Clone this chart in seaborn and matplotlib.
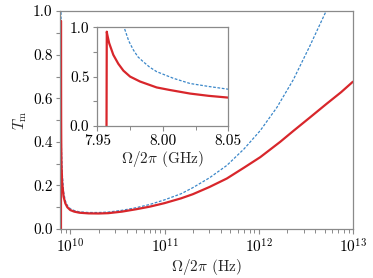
import numpy as np
import pandas as pd
import matplotlib
matplotlib.use("Agg")
import matplotlib.pyplot as plt
import seaborn as sns

# ---- data ----
red_freq_hz = [7.9570e9, 7.9572e9, 7.9575e9, 7.9590e9, 7.9622e9, 7.9660e9, 7.9699e9, 7.9750e9,
               7.9826e9, 7.9900e9, 7.9953e9, 8.0050e9, 8.0208e9, 8.0350e9, 8.05e9,
               8.2e9, 8.49e9, 8.85e9, 9.3e9, 1.0e10, 1.1e10, 1.25e10, 1.56e10, 2.0e10, 2.53e10,
               3.53e10, 5.0e10, 7.0e10, 1.0e11, 1.5e11, 2.0e11, 3.0e11, 4.59e11, 7.0e11,
               1.04e12, 1.69e12, 2.33e12, 3.5e12, 5.27e12, 7.5e12, 1.0e13]
red_T = [0.0, 0.955, 0.93, 0.84, 0.72, 0.63, 0.56, 0.50,
         0.45, 0.415, 0.39, 0.365, 0.328, 0.305, 0.287,
         0.21, 0.148, 0.118, 0.100, 0.087, 0.080, 0.075, 0.072, 0.0715, 0.073,
         0.080, 0.091, 0.103, 0.119, 0.141, 0.160, 0.193, 0.232, 0.282,
         0.330, 0.400, 0.450, 0.512, 0.575, 0.628, 0.676]

blue_freq_hz = [7.9660e9, 7.9704e9, 7.9740e9, 7.9775e9, 7.9810e9, 7.9851e9, 7.9900e9, 7.9953e9,
                8.0080e9, 8.0208e9, 8.0350e9, 8.05e9,
                8.2e9, 8.49e9, 8.85e9, 9.3e9, 1.0e10, 1.1e10, 1.25e10, 1.56e10, 2.0e10, 2.53e10,
                3.53e10, 5.0e10, 7.0e10, 1.0e11, 1.5e11, 2.0e11, 3.0e11, 4.59e11, 7.0e11,
                1.04e12, 1.56e12, 2.33e12, 3.51e12, 5.2e12, 7.0e12]
blue_T = [1.30, 1.0, 0.86, 0.77, 0.70, 0.65, 0.595, 0.55,
          0.483, 0.43, 0.40, 0.372,
          0.26, 0.17, 0.13, 0.108, 0.093, 0.085, 0.079, 0.076, 0.076, 0.078,
          0.086, 0.098, 0.113, 0.134, 0.162, 0.190, 0.235, 0.292, 0.368,
          0.452, 0.558, 0.685, 0.842, 1.0, 1.18]

main_yticks = [0.0, 0.2, 0.4, 0.6, 0.8, 1.0]
inset_xticks = [7.95, 8.00, 8.05]
inset_yticks = [0.0, 0.5, 1.0]

RED = "#d8262b"
BLUE = "#3b87c9"
GRAY = "#8a8a8a"

sns.set_theme(style="ticks")
plt.rcParams.update({
    "font.family": "serif",
    "font.serif": ["cmr10"],
    "mathtext.fontset": "cm",
    "axes.unicode_minus": False,
    "axes.formatter.use_mathtext": True,
    "font.size": 11,
    "axes.edgecolor": GRAY,
    "axes.linewidth": 0.9,
    "xtick.color": GRAY,
    "ytick.color": GRAY,
    "xtick.labelcolor": "black",
    "ytick.labelcolor": "black",
    "xtick.labelsize": 11,
    "ytick.labelsize": 11,
    "xtick.major.size": 3.5,
    "xtick.minor.size": 3.0,
    "ytick.major.size": 3.2,
    "ytick.minor.size": 3.2,
    "xtick.major.width": 0.8,
    "xtick.minor.width": 0.7,
    "ytick.major.width": 0.8,
    "ytick.minor.width": 0.8,
    "xtick.major.pad": 2.5,
    "ytick.major.pad": 2.5,
})

red_df = pd.DataFrame({"f": red_freq_hz, "T": red_T})
blue_df = pd.DataFrame({"f": blue_freq_hz, "T": blue_T})

fig = plt.figure(figsize=(3.73, 2.78), dpi=100)
ax = fig.add_axes([0.162, 0.176, 0.784, 0.784])

sns.lineplot(data=blue_df, x="f", y="T", ax=ax, color=BLUE, lw=0.9,
             linestyle=(0, (2.2, 1.3)), sort=False, estimator=None)
sns.lineplot(data=red_df, x="f", y="T", ax=ax, color=RED, lw=1.6,
             sort=False, estimator=None)
ax.set_xscale("log")
ax.set_xlim(7.85e9, 1e13)
ax.set_ylim(0, 1)
ax.set_yticks(main_yticks)
ax.set_yticks(np.arange(0.1, 1.0, 0.2), minor=True)
ax.yaxis.set_major_formatter(matplotlib.ticker.FormatStrFormatter("%.1f"))
ax.set_xlabel(r"$\Omega/2\pi$ (Hz)", fontsize=11, labelpad=1)
ax.set_ylabel(r"$T_\mathrm{m}$", fontsize=11, labelpad=3)

# inset
ins = fig.add_axes([0.261, 0.547, 0.351, 0.355])
red_g = red_df.assign(g=red_df["f"] / 1e9)
blue_g = blue_df.assign(g=blue_df["f"] / 1e9)
red_g = red_g[red_g["g"] <= 8.3]
blue_g = blue_g[blue_g["g"] <= 8.3]
sns.lineplot(data=blue_g, x="g", y="T", ax=ins, color=BLUE, lw=0.9,
             linestyle=(0, (2.2, 1.3)), sort=False, estimator=None)
sns.lineplot(data=red_g, x="g", y="T", ax=ins, color=RED, lw=1.6,
             sort=False, estimator=None)
ins.set_xlim(7.95, 8.05)
ins.set_ylim(0, 1)
ins.set_xticks(inset_xticks)
ins.set_xticks([7.975, 8.025], minor=True)
ins.set_yticks(inset_yticks)
ins.set_yticks([0.25, 0.75], minor=True)
ins.xaxis.set_major_formatter(matplotlib.ticker.FormatStrFormatter("%.2f"))
ins.yaxis.set_major_formatter(matplotlib.ticker.FormatStrFormatter("%.1f"))
ins.set_xlabel(r"$\Omega/2\pi$ (GHz)", fontsize=11, labelpad=1)
ins.set_ylabel("")

fig.savefig("out.png", dpi=100)
